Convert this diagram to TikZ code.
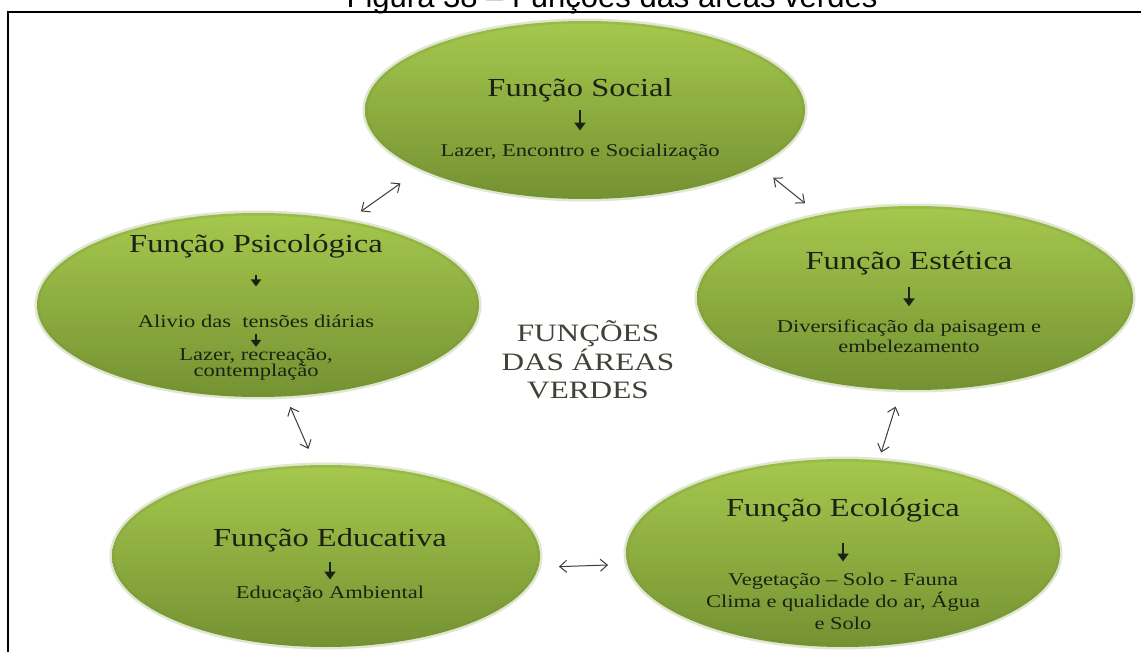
\documentclass[tikz,border=0pt]{standalone}
\usepackage{fontspec}
\usetikzlibrary{shapes.geometric,arrows.meta}
\newfontfamily\serifa{Liberation Serif}[FakeStretch=1.25]
\newfontfamily\legenda{Liberation Sans}
\definecolor{verdeclaro}{RGB}{165,200,78}
\definecolor{verdeescuro}{RGB}{116,146,50}
\definecolor{textoesc}{RGB}{28,34,18}
\definecolor{setacinza}{RGB}{60,60,60}

\tikzset{
  funcao/.style={ellipse, inner sep=0pt, top color=verdeclaro, bottom color=verdeescuro,
    draw=verdeescuro, draw opacity=0.22, line width=2.5pt},
  titulo/.style={font=\serifa\fontsize{13}{15}\selectfont, text=textoesc, inner sep=0pt, anchor=base},
  texto/.style={font=\serifa\fontsize{9}{9.5}\selectfont, text=textoesc, inner sep=0pt, align=center, anchor=base},
  seta/.style={line width=1.3pt, textoesc, -{Triangle[length=4pt,width=5.5pt]}},
  setap/.style={line width=1pt, textoesc, -{Triangle[length=3.5pt,width=5pt]}},
  ligacao/.style={setacinza, line width=0.5pt, {Straight Barb[length=3.5pt,width=6pt]}-{Straight Barb[length=3.5pt,width=6pt]}}
}

\begin{document}
\begin{tikzpicture}[x=0.5pt, y=-0.5pt]
        \useasboundingbox (0,0) rectangle (1141,652);
        \clip (0,0) rectangle (1141,652);
        \fill[white] (0,0) rectangle (1141,652);

        % Legenda e moldura
        \node[font=\legenda\fontsize{15.5}{18}\selectfont, anchor=base, inner sep=0pt] (leg) at (612,8) {Figura 38 – Funções das áreas verdes};
        \draw[line width=1.3pt] (8,652) -- (8,12) -- (1141,12);

        % Elipses
        \node[funcao, minimum width=220pt, minimum height=89pt] (soc) at (585,110) {};
        \node[funcao, minimum width=221pt, minimum height=92pt] (psi) at (258,305) {};
        \node[funcao, minimum width=218pt, minimum height=92pt] (est) at (915,298) {};
        \node[funcao, minimum width=214pt, minimum height=91pt] (edu) at (326,556) {};
        \node[funcao, minimum width=217pt, minimum height=94pt] (eco) at (843,553) {};

        % Função Social
        \node[titulo] (soct) at (580,97) {Função Social};
        \node[texto] (socs) at (580,157) {Lazer, Encontro e Socialização};
        \draw[seta, shorten <=3.7pt, shorten >=6.8pt] (soct) -- (socs);

        % Função Psicológica (base = última linha)
        \node[titulo] (psit) at (256,253) {Função Psicológica};
        \node[texto] (psis1) at (256,328) {Alivio das\ \ tensões diárias};
        \node[texto, font=\serifa\fontsize{9}{8.5}\selectfont] (psis2) at (256,377) {Lazer, recreação,\\contemplação};
        \draw[setap, shorten <=8.2pt, shorten >=14.3pt] (psit) -- (psis1);
        \draw[setap, shorten <=2.5pt, shorten >=0.3pt] (psis1) -- (psis2);

        % Função Estética
        \node[titulo] (estt) at (909,270) {Função Estética};
        \node[texto] (ests) at (909,352) {Diversificação da paisagem e\\embelezamento};
        \draw[seta, shorten <=5.7pt, shorten >=6.8pt] (estt) -- (ests);

        % Função Educativa
        \node[titulo] (edut) at (330,546) {Função Educativa};
        \node[texto] (edus) at (330,598) {Educação Ambiental};
        \draw[seta, shorten <=5.2pt, shorten >=2.8pt] (edut) -- (edus);

        % Função Ecológica
        \node[titulo] (ecot) at (843,516) {Função Ecológica};
        \node[texto, font=\serifa\fontsize{9}{11}\selectfont] (ecos) at (843,629) {Vegetação – Solo - Fauna\\Clima e qualidade do ar, Água\\e Solo};
        \draw[seta, shorten <=10.7pt, shorten >=5.3pt] (ecot) -- (ecos);

        % Centro
        \node[font=\serifa\fontsize{12.5}{14.25}\selectfont, text=textoesc!85!white, align=center, anchor=base, inner sep=0pt] (centro) at (588,399) {FUNÇÕES\\DAS ÁREAS\\VERDES};

        % Ligações
        \draw[ligacao, shorten <=11pt, shorten >=6.5pt] (soc.200) -- (psi.43);
        \draw[ligacao, shorten <=8.8pt, shorten >=8pt] (soc.342) -- (est.139);
        \draw[ligacao, shorten <=4.5pt, shorten >=7.5pt] (psi.287) -- (edu.97);
        \draw[ligacao, shorten <=9pt, shorten >=8.5pt] (edu.357) -- (eco.183);
        \draw[ligacao, shorten <=7.5pt, shorten >=2.8pt] (est.261) -- (eco.69);
    \end{tikzpicture}
\end{document}
